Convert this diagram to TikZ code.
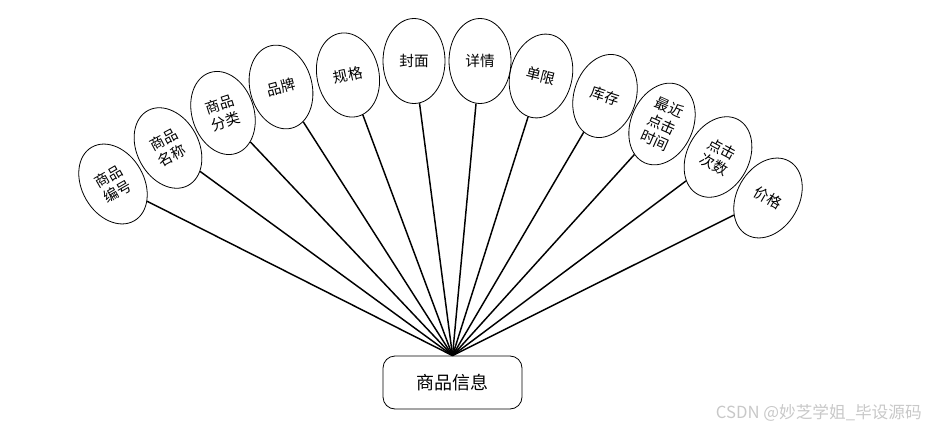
\documentclass[tikz,border=0pt]{standalone}
\usepackage{fontspec}
\usetikzlibrary{shapes.geometric}
\newfontfamily\cjk{Noto Sans CJK SC}
\definecolor{wm}{RGB}{200,200,200}
\begin{document}
\begin{tikzpicture}[x=0.75pt,y=0.75pt,
  attr/.style={draw, ellipse, line width=0.6pt, minimum width=46.5pt, minimum height=63.75pt,
    inner sep=0pt, align=center, font=\cjk\fontsize{11}{13.5}\selectfont},
  entbox/.style={draw, rounded corners=9pt, line width=0.6pt, minimum width=104.25pt,
    minimum height=39.75pt, inner sep=0pt, font=\cjk\fontsize{13.5}{16}\selectfont},
  link/.style={line width=1.1pt}]
\useasboundingbox (0,0) rectangle (927,-431);
\node[entbox] (info) at (452.5,-382.5) {商品信息};
\node[attr, rotate=30] (a1) at (113,-184) {商品\\编号};
\node[attr, rotate=28] (a2) at (168,-148) {商品\\名称};
\node[attr, rotate=18] (a3) at (223,-113) {商品\\分类};
\node[attr, rotate=15] (a4) at (281,-87) {品牌};
\node[attr, rotate=12] (a5) at (348,-75) {规格};
\node[attr] (a6) at (414,-61) {封面};
\node[attr] (a7) at (480,-61) {详情};
\node[attr, rotate=-14] (a8) at (541,-76) {单限};
\node[attr, rotate=-18] (a9) at (605,-96) {库存};
\node[attr, rotate=-24] (a10) at (662,-124) {最近\\点击\\时间};
\node[attr, rotate=-28] (a11) at (718,-157) {点击\\次数};
\node[attr, rotate=-30] (a12) at (768,-198) {价格};
\foreach \i in {1,...,12} {\draw[link] (a\i) -- (info.north);}
\node[anchor=east, text=wm, font=\cjk\fontsize{12.5}{14}\selectfont, inner sep=0pt] (wmark) at (922,-413) {CSDN @妙芝学姐\_毕设源码};
\end{tikzpicture}
\end{document}
